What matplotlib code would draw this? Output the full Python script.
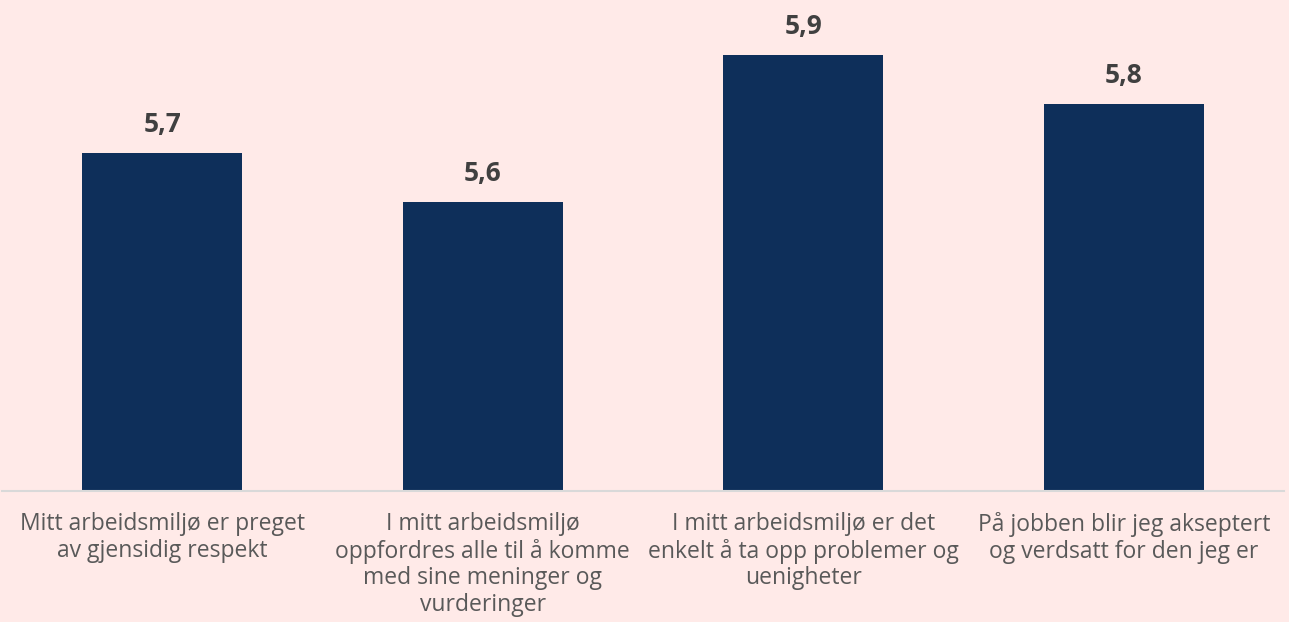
import matplotlib
matplotlib.use("Agg")
import matplotlib.pyplot as plt

categories = [
    "Mitt arbeidsmiljø er preget\nav gjensidig respekt",
    "I mitt arbeidsmiljø\noppfordres alle til å komme\nmed sine meninger og\nvurderinger",
    "I mitt arbeidsmiljø er det\nenkelt å ta opp problemer og\nuenigheter",
    "På jobben blir jeg akseptert\nog verdsatt for den jeg er",
]
values = [5.7, 5.6, 5.9, 5.8]
value_labels = ["5,7", "5,6", "5,9", "5,8"]

bg = "#FFEAE8"
bar_color = "#0E2F5A"

plt.rcParams['font.family'] = ['Open Sans', 'DejaVu Sans']

W, H = 1289, 622
fig = plt.figure(figsize=(W / 100, H / 100), dpi=100, facecolor=bg)
ax = fig.add_axes([2 / W, (H - 491) / H, 1282 / W, 491 / H])
ax.set_facecolor(bg)

x = list(range(len(categories)))
ax.bar(x, values, width=0.5, color=bar_color, zorder=2)
ax.set_xlim(-0.5, 3.5)
ax.set_ylim(5.01, 5.01 + 491 / 490)

for xi, v, lab in zip(x, values, value_labels):
    ax.annotate(lab, (xi, v), xytext=(0, 11), textcoords='offset points',
                ha='center', va='bottom', fontsize=19, fontweight='bold', color='#404040')

ax.set_xticks(x)
ax.set_xticklabels(categories, fontsize=16.5, color='#595959', linespacing=1.15)
ax.tick_params(axis='x', length=0, pad=15)
ax.set_yticks([])
for s in ['top', 'right', 'left']:
    ax.spines[s].set_visible(False)
ax.spines['bottom'].set_color('#D9D9D9')
ax.spines['bottom'].set_linewidth(1.5)

fig.savefig('out.png', dpi=100, facecolor=bg)
